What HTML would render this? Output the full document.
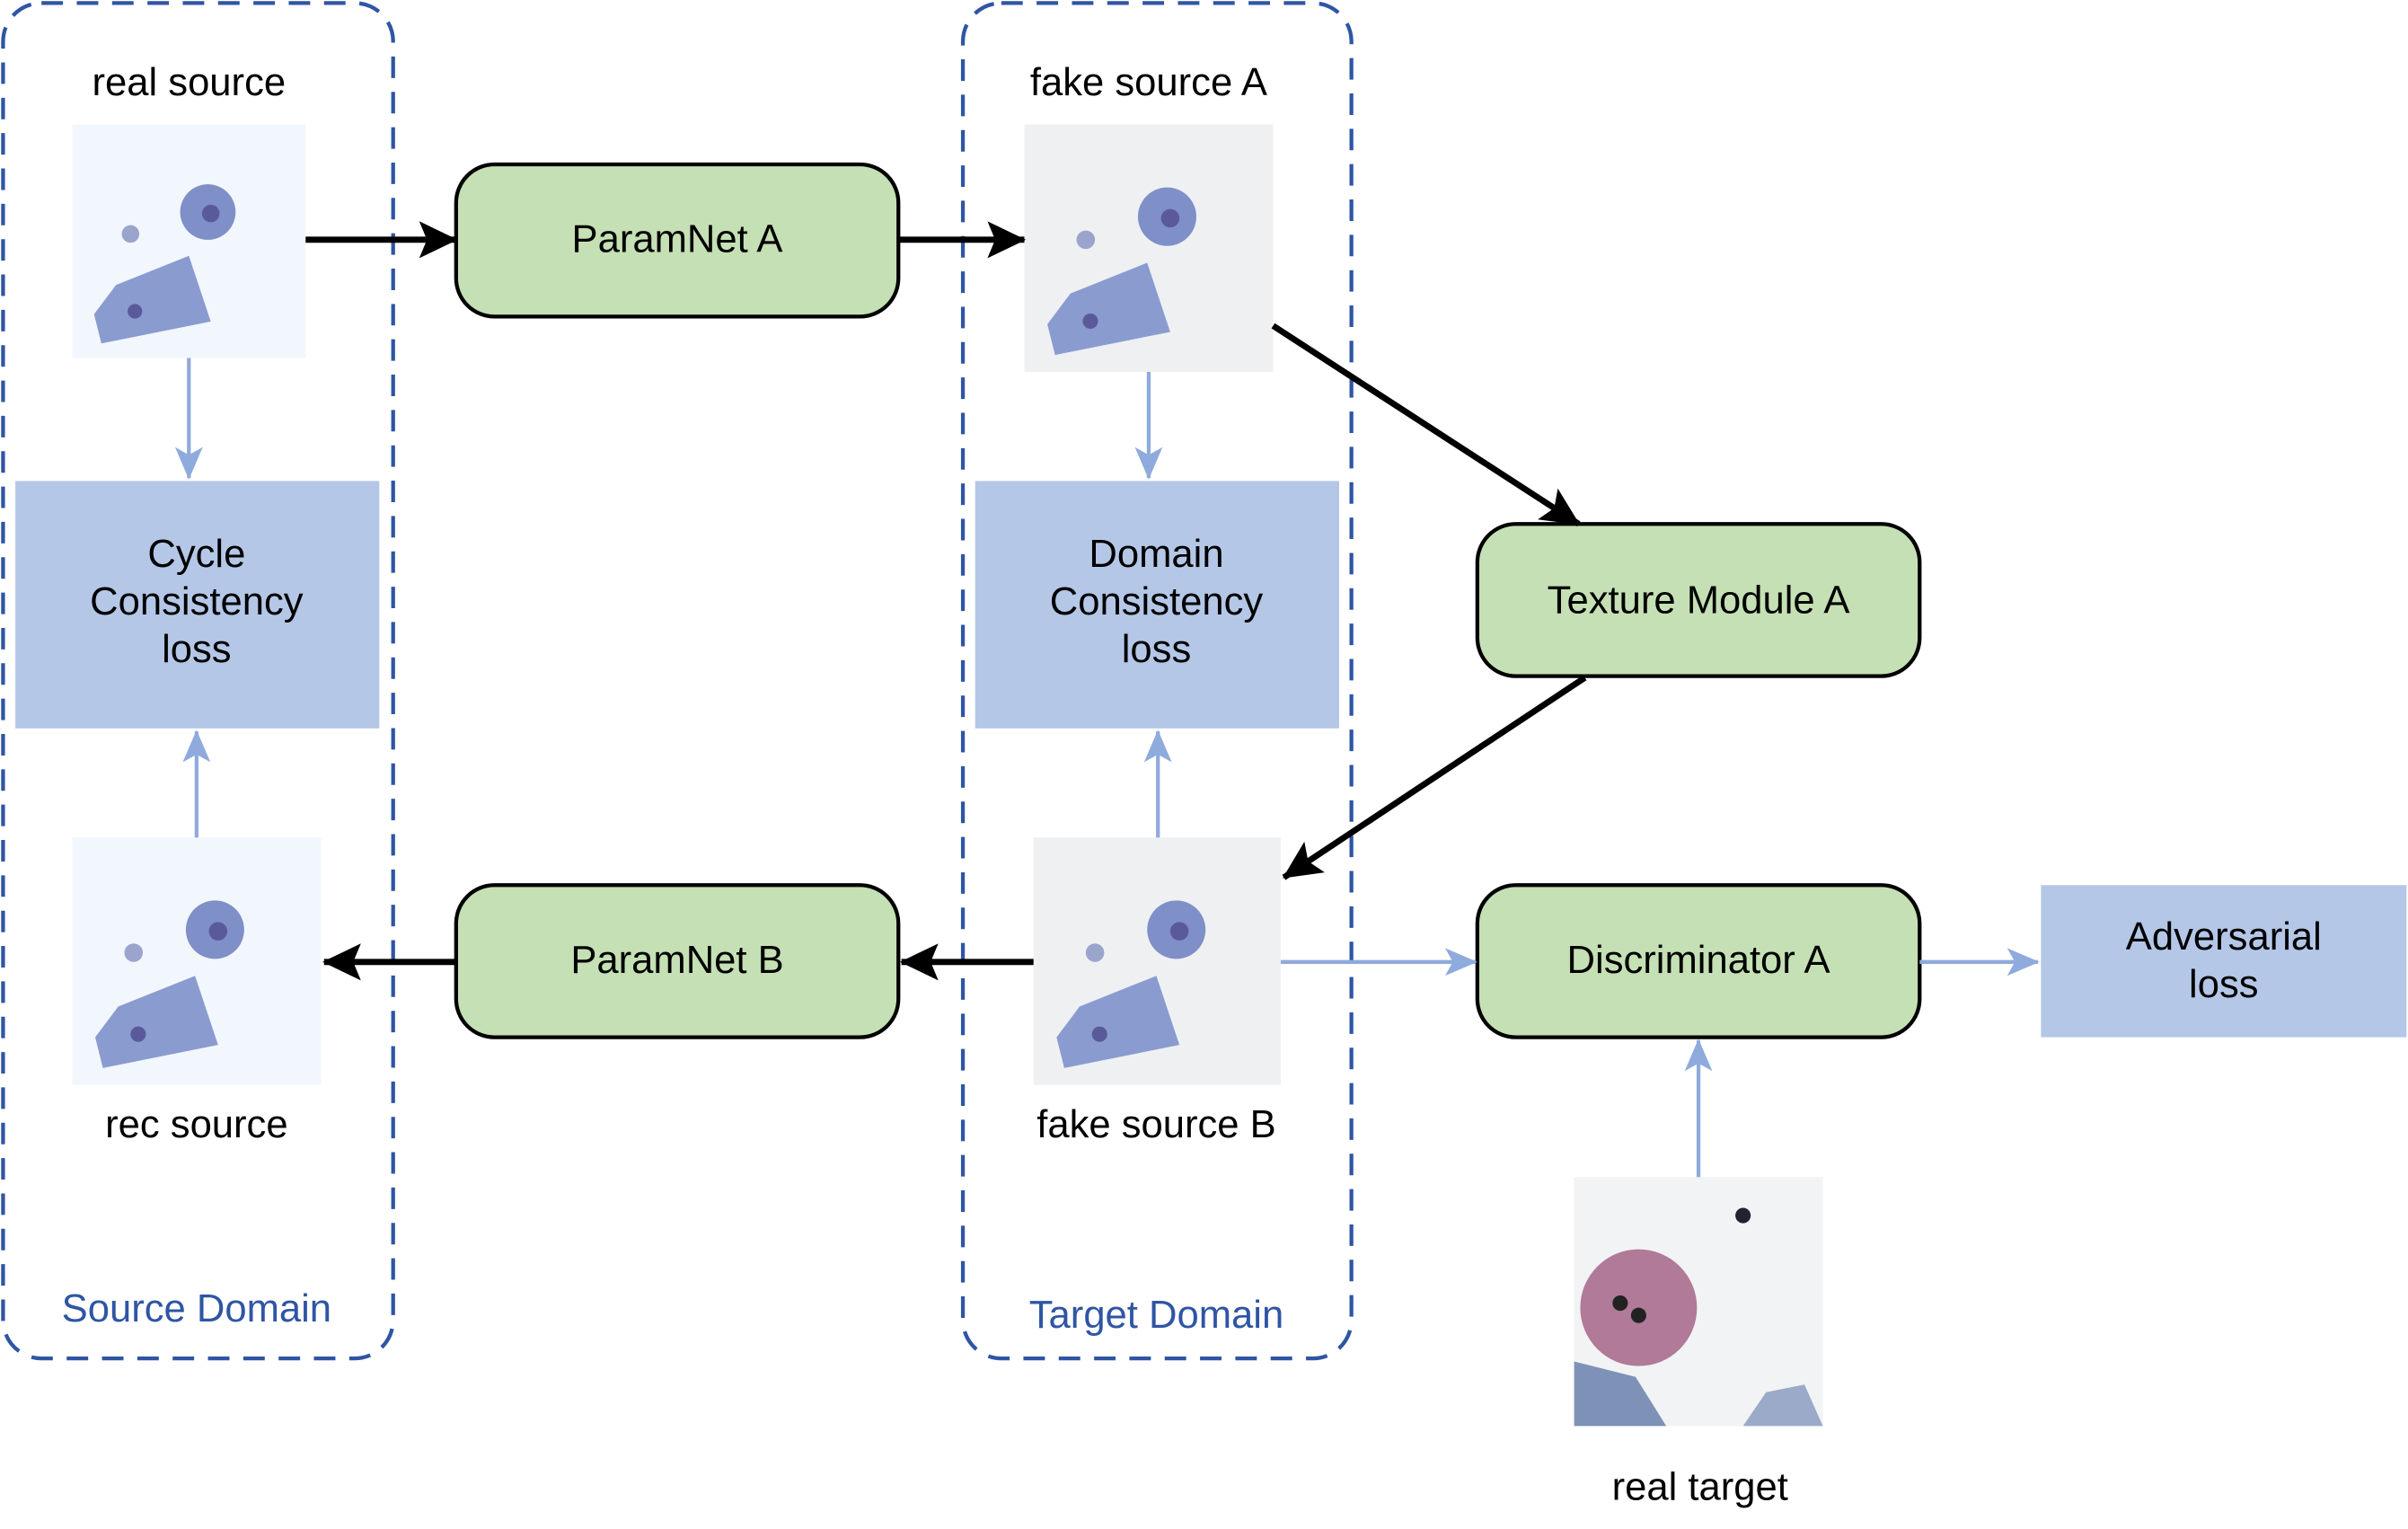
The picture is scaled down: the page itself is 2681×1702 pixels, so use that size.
<!DOCTYPE html>
<html><head><meta charset="utf-8"><style>html,body{margin:0;padding:0;background:#fff}svg{display:block}</style></head>
<body>
<svg width="2681" height="1702" viewBox="0 0 1568 995" preserveAspectRatio="none" xmlns="http://www.w3.org/2000/svg" font-family="'Liberation Sans', sans-serif">
<defs>
<marker id="abk" markerWidth="26" markerHeight="26" refX="24" refY="13" orient="auto" markerUnits="userSpaceOnUse"><path d="M0,1 L25,13 L0,25 L5,13 Z" fill="#000"/></marker>
<marker id="al" markerWidth="22" markerHeight="22" refX="20" refY="11" orient="auto" markerUnits="userSpaceOnUse"><path d="M0,2 L21,11 L0,20 L5,11 Z" fill="#8faadc"/></marker>
<g id="cell">
<circle cx="93" cy="60" r="19" fill="#7f8fc8"/>
<circle cx="95" cy="61" r="6" fill="#5a5a9a"/>
<path d="M15,130 L30,110 L80,90 L95,135 L20,150 Z" fill="#8a9bd0"/>
<circle cx="43" cy="128" r="5" fill="#5a5a9a"/>
<circle cx="40" cy="75" r="6" fill="#9aa4cc"/>
</g>
</defs>
<rect x="2" y="2" width="254" height="882" rx="25" fill="none" stroke="#2f55a4" stroke-width="2.5" stroke-dasharray="14,9"/>
<rect x="627" y="2" width="253" height="882" rx="25" fill="none" stroke="#2f55a4" stroke-width="2.5" stroke-dasharray="14,9"/>
<g font-size="25.5" text-anchor="middle" fill="#000">
<text x="123" y="62">real source</text>
<text x="748" y="62">fake source A</text>
<text x="128" y="740">rec source</text>
<text x="753" y="740">fake source B</text>
<text x="1107" y="976">real target</text>
<text x="128" y="860" fill="#2f55a4">Source Domain</text>
<text x="753" y="864" fill="#2f55a4">Target Domain</text>
</g>
<rect x="47" y="81" width="152" height="152" fill="#f2f7fd"/>
<use href="#cell" transform="translate(47,81) scale(0.95)"/>
<rect x="667" y="81" width="162" height="161" fill="#eef0f2"/>
<use href="#cell" transform="translate(667,81)"/>
<rect x="47" y="545" width="162" height="161" fill="#f2f7fd"/>
<use href="#cell" transform="translate(47,545)"/>
<rect x="673" y="545" width="161" height="161" fill="#eef0f2"/>
<use href="#cell" transform="translate(673,545)"/>
<g transform="translate(1025,766)">
<rect width="162" height="162" fill="#f2f3f4"/>
<circle cx="42" cy="85" r="38" fill="#b07a98"/>
<circle cx="30" cy="82" r="5" fill="#222"/><circle cx="42" cy="90" r="5" fill="#222"/>
<path d="M0,120 L40,130 L60,162 L0,162 Z" fill="#7e92b8"/>
<path d="M110,162 L125,140 L150,135 L162,162 Z" fill="#9aaac8"/>
<circle cx="110" cy="25" r="5" fill="#223"/>
</g>
<g fill="#c5e0b4" stroke="#000" stroke-width="2.5">
<rect x="297" y="107" width="288" height="99" rx="25"/>
<rect x="962" y="341" width="288" height="99" rx="25"/>
<rect x="297" y="576" width="288" height="99" rx="25"/>
<rect x="962" y="576" width="288" height="99" rx="25"/>
</g>
<g fill="#b4c7e7">
<rect x="10" y="313" width="237" height="161"/>
<rect x="635" y="313" width="237" height="161"/>
<rect x="1329" y="576" width="238" height="99"/>
</g>
<g font-size="25.5" text-anchor="middle" fill="#000">
<text x="441" y="164">ParamNet A</text>
<text x="1106" y="399">Texture Module A</text>
<text x="441" y="633">ParamNet B</text>
<text x="1106" y="633">Discriminator A</text>
<text x="128" y="369">Cycle</text><text x="128" y="400">Consistency</text><text x="128" y="431">loss</text>
<text x="753" y="369">Domain</text><text x="753" y="400">Consistency</text><text x="753" y="431">loss</text>
<text x="1448" y="618">Adversarial</text><text x="1448" y="649">loss</text>
</g>
<g stroke="#000" stroke-width="4" fill="none" marker-end="url(#abk)">
<line x1="199" y1="156" x2="297" y2="156"/>
<line x1="585" y1="156" x2="667" y2="156"/>
<line x1="829" y1="212" x2="1028" y2="341"/>
<line x1="1032" y1="441" x2="836" y2="571"/>
<line x1="673" y1="626" x2="587" y2="626"/>
<line x1="297" y1="626" x2="211" y2="626"/>
</g>
<g stroke="#8faadc" stroke-width="2.5" fill="none" marker-end="url(#al)">
<line x1="123" y1="233" x2="123" y2="311"/>
<line x1="748" y1="242" x2="748" y2="311"/>
<line x1="128" y1="545" x2="128" y2="476"/>
<line x1="754" y1="545" x2="754" y2="476"/>
<line x1="834" y1="626" x2="961" y2="626"/>
<line x1="1250" y1="626" x2="1327" y2="626"/>
<line x1="1106" y1="766" x2="1106" y2="677"/>
</g>
</svg>
</body></html>
